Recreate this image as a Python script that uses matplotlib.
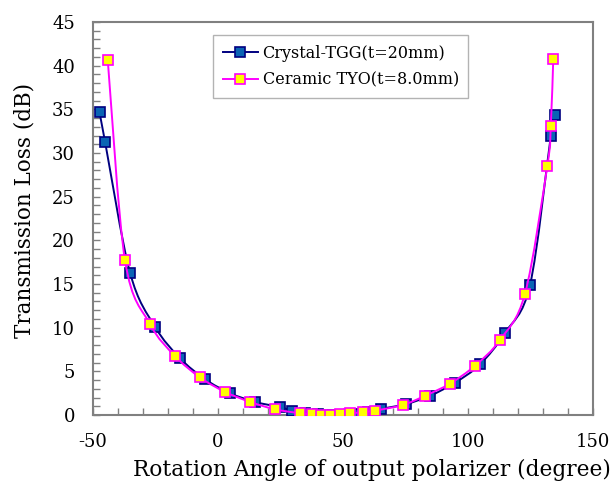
import numpy as np
import matplotlib
matplotlib.use("Agg")
import matplotlib.pyplot as plt
from matplotlib.path import Path
from matplotlib.patches import PathPatch
from matplotlib.ticker import MultipleLocator

plt.rcParams['font.family'] = 'DejaVu Serif'
plt.rcParams['axes.unicode_minus'] = False

# Crystal-TGG (t=20mm)
tgg_angle = [-47.4, -45.2, -35.2, -25.2, -15.2, -5.2, 4.8, 14.8, 24.8, 29.6,
             34.8, 39.8, 44.8, 49.8, 54.8, 59.8, 65.2, 75.2, 84.8, 94.8,
             104.8, 114.8, 124.8, 133.1, 134.8]
tgg_loss = [34.7, 31.3, 16.3, 10.1, 6.5, 4.1, 2.5, 1.5, 0.9, 0.5,
            0.25, 0.1, 0.05, 0.05, 0.15, 0.35, 0.7, 1.25, 2.2, 3.7,
            5.8, 9.4, 14.9, 31.9, 34.4]

# Ceramic TYO (t=8.0mm)
tyo_angle = [-44.1, -37.2, -27.2, -17.2, -7.2, 2.8, 12.8, 22.8, 32.8, 37.7,
             41.2, 44.8, 48.8, 52.8, 57.9, 62.8, 73.9, 82.8, 92.8, 102.8,
             112.8, 122.8, 131.7, 133.1, 134.1]
tyo_loss = [40.6, 17.7, 10.4, 6.75, 4.3, 2.65, 1.5, 0.65, 0.2, 0.08,
            0.04, 0.04, 0.1, 0.18, 0.34, 0.5, 1.15, 2.2, 3.6, 5.65,
            8.6, 13.9, 28.5, 33.1, 40.8]

xticks = [-50, 0, 50, 100, 150]
yticks = [0, 5, 10, 15, 20, 25, 30, 35, 40, 45]


def smooth_path(x, y):
    # Excel-style smoothed line: cubic Bezier segments through every point
    p = np.column_stack([x, y]).astype(float)
    n = len(p)
    verts = [p[0]]
    codes = [Path.MOVETO]
    for i in range(n - 1):
        p0 = p[i - 1] if i > 0 else p[i]
        p3 = p[i + 2] if i + 2 < n else p[i + 1]
        c1 = p[i] + (p[i + 1] - p0) / 6.0
        c2 = p[i + 1] - (p3 - p[i]) / 6.0
        verts += [c1, c2, p[i + 1]]
        codes += [Path.CURVE4] * 3
    return Path(verts, codes)


fig = plt.figure(figsize=(6.12, 4.83), dpi=100)
ax = fig.add_axes([0.152, 0.1408, 0.817, 0.8137])

series = [
    (tgg_angle, tgg_loss, '#000080', '#0a64b4', '#000080', 'Crystal-TGG(t=20mm)'),
    (tyo_angle, tyo_loss, '#ff00ff', '#ffff00', '#ff00ff', 'Ceramic TYO(t=8.0mm)'),
]
for i, (xs, ys, lc, fc, ec, lab) in enumerate(series):
    ax.add_patch(PathPatch(smooth_path(xs, ys), facecolor='none', edgecolor=lc,
                           lw=1.4, zorder=2 + 2 * i))
    ax.plot(xs, ys, linestyle='none', marker='s', markersize=7.8,
            markerfacecolor=fc, markeredgecolor=ec, markeredgewidth=1.2,
            zorder=3 + 2 * i)
    # legend handle
    ax.plot([], [], color=lc, lw=1.4, marker='s', markersize=7.8,
            markerfacecolor=fc, markeredgecolor=ec, markeredgewidth=1.2, label=lab)

ax.set_xlim(-50, 150)
ax.set_ylim(0, 45)
ax.set_xticks(xticks)
ax.set_yticks(yticks)
ax.xaxis.set_minor_locator(MultipleLocator(10))
ax.yaxis.set_minor_locator(MultipleLocator(1))
ax.tick_params(which='both', direction='in', length=5, width=1, color='#808080',
               labelsize=13, pad=13, top=False, right=False)

for spine in ax.spines.values():
    spine.set_color('#808080')
    spine.set_linewidth(1.5)

ax.set_xlabel('Rotation Angle of output polarizer (degree)', fontsize=15.6)
ax.set_ylabel('Transmission Loss (dB)', fontsize=15.5)
ax.xaxis.set_label_coords(0.558, -0.112)
ax.yaxis.set_label_coords(-0.116, 0.52)

leg = ax.legend(loc='upper left', bbox_to_anchor=(0.24, 0.967), fontsize=11.5,
                frameon=True, fancybox=False, handlelength=2.2, handletextpad=0.3,
                borderpad=0.6, labelspacing=0.6, borderaxespad=0)
leg.get_frame().set_edgecolor('#a0a0a0')
leg.get_frame().set_linewidth(1.0)

fig.savefig('out.png', dpi=100)
